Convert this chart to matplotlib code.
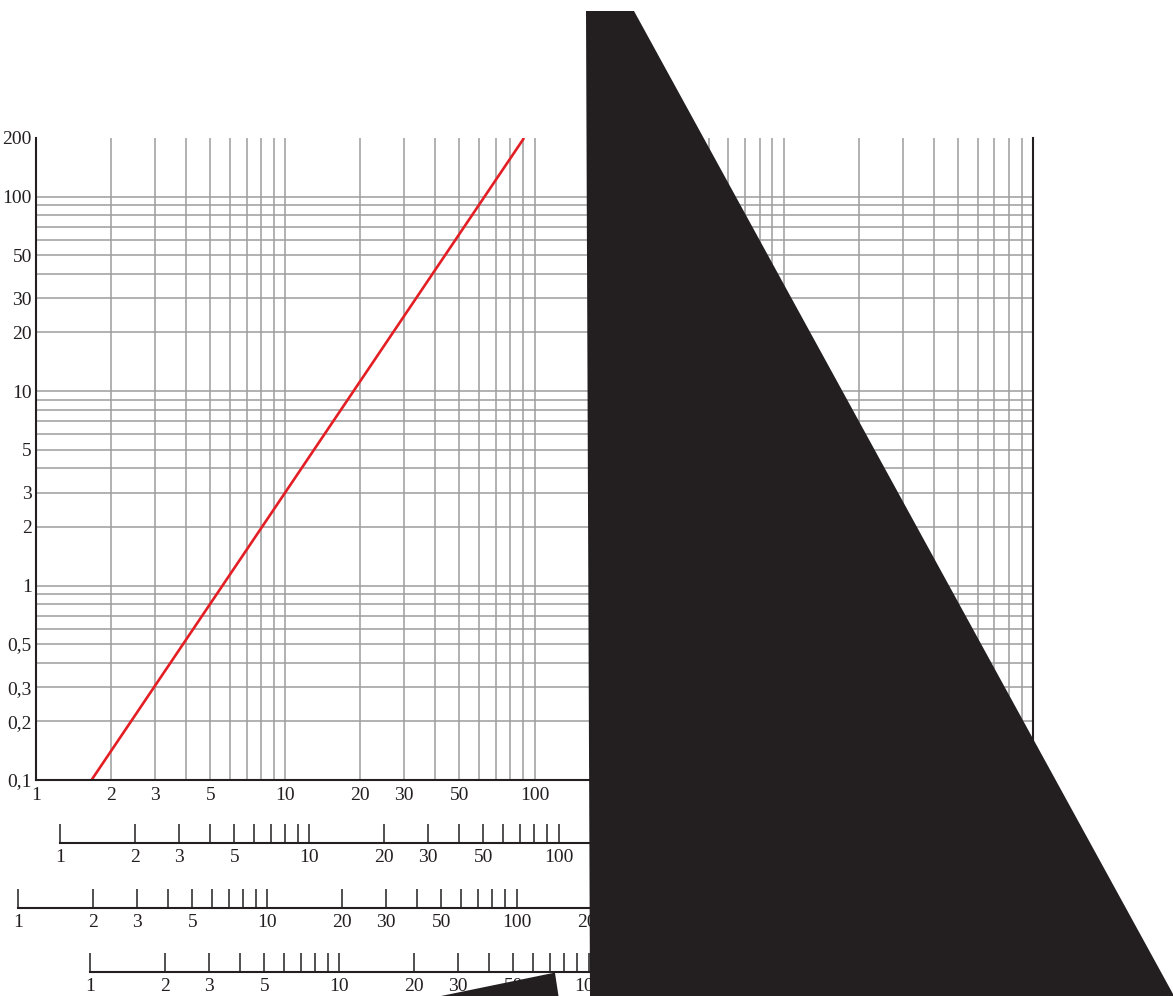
import matplotlib
matplotlib.use("Agg")
import matplotlib.pyplot as plt
from matplotlib.patches import Polygon

plt.rcParams["font.family"] = ["Liberation Serif", "DejaVu Serif"]

W, H = 1173, 996

# ── data ──────────────────────────────────────────────────────────────────────
line_x = [1.67, 90.8]
line_y = [0.1, 200]

x_grid = [k * 10 ** n for n in range(4) for k in range(1, 10)][1:]
y_grid = [round(k * 10.0 ** n, 1) for n in range(-1, 2) for k in range(1, 10)][1:] + [100]

x_ticks = [1, 2, 3, 5, 10, 20, 30, 50, 100, 200, 300, 500, 1000, 2000, 3000, 5000, 10000]
x_labels = [str(v) for v in x_ticks]
y_ticks = [0.1, 0.2, 0.3, 0.5, 1, 2, 3, 5, 10, 20, 30, 50, 100, 200]
y_labels = ["0,1", "0,2", "0,3", "0,5", "1", "2", "3", "5", "10", "20", "30", "50", "100", "200"]

scale_ticks = [k * 10 ** n for n in range(4) for k in range(1, 10)] + [10000]
scale_labeled = [1, 2, 3, 5, 10, 20, 30, 50, 100, 200, 300, 500, 1000, 2000, 3000, 5000, 10000]
# left end (value 1) and baseline of each nomogram scale, in pixels
scale_starts = [60, 18, 90]
scale_baselines = [843, 908, 972]

INK = "#231f20"
GRID = "#9d9d9d"
FS = 14

fig = plt.figure(figsize=(W / 100, H / 100), dpi=100)

# ── main log-log chart ────────────────────────────────────────────────────────
ax = fig.add_axes([36 / W, (H - 780) / H, (1033 - 36) / W, (780 - 138) / H])
ax.set_xscale("log")
ax.set_yscale("log")
ax.set_xlim(1, 10000)
ax.set_ylim(0.1, 200)

for xv in x_grid:
    ax.axvline(xv, color=GRID, lw=1.1, zorder=1)
for yv in y_grid:
    ax.axhline(yv, color=GRID, lw=1.1, zorder=1)

ax.plot(line_x, line_y, color="#e31e24", lw=1.9, zorder=3, solid_capstyle="butt")

ax.minorticks_off()
ax.set_xticks(x_ticks, x_labels)
ax.set_yticks(y_ticks, y_labels)
ax.tick_params(axis="both", length=0, labelsize=FS, colors=INK)
ax.tick_params(axis="x", pad=5)
ax.tick_params(axis="y", pad=3)
ax.spines["top"].set_visible(False)
for side in ["left", "bottom", "right"]:
    ax.spines[side].set_color(INK)
    ax.spines[side].set_linewidth(1.5)
    ax.spines[side].set_zorder(4)

# ── nomogram scales below ─────────────────────────────────────────────────────
for x0, yb in zip(scale_starts, scale_baselines):
    sax = fig.add_axes([x0 / W, (H - yb) / H, (1033 - 36) / W, 25 / H])
    sax.set_xscale("log")
    sax.set_xlim(1, 10000)
    sax.patch.set_visible(False)
    for side in ["left", "top", "right"]:
        sax.spines[side].set_visible(False)
    sax.spines["bottom"].set_color(INK)
    sax.spines["bottom"].set_linewidth(1.5)
    sax.set_yticks([])
    sax.minorticks_off()
    sax.set_xticks(scale_ticks,
                   [str(v) if v in scale_labeled else "" for v in scale_ticks])
    sax.tick_params(axis="x", direction="in", length=13.5, width=1.1,
                    colors=INK, labelsize=FS, pad=4)

# ── black cut-out shapes over the image ───────────────────────────────────────
def px(points):
    return [(x / W, 1 - y / H) for x, y in points]

fig.patches.append(Polygon(px([(586, 11), (634, 11), (1173, 994), (1173, 996), (590, 996)]),
                           closed=True, transform=fig.transFigure, facecolor=INK,
                           edgecolor="none", zorder=10))
fig.patches.append(Polygon(px([(441, 996), (553, 973), (555, 973), (558.5, 996)]),
                           closed=True, transform=fig.transFigure, facecolor=INK,
                           edgecolor="none", zorder=10))

fig.savefig("out.png", dpi=100)
